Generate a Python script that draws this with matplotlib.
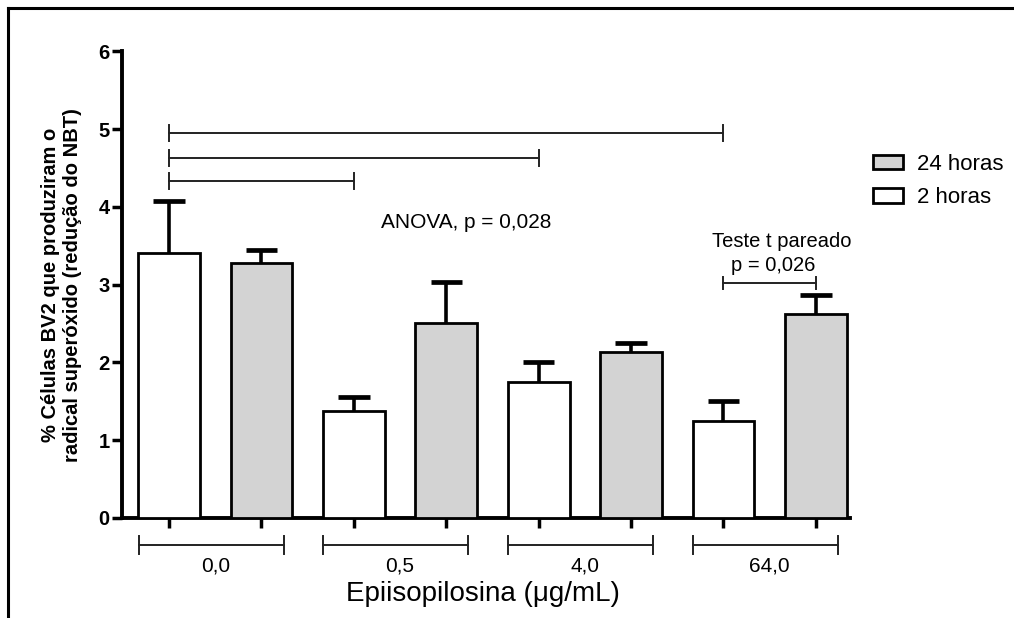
import matplotlib
matplotlib.use("Agg")
import matplotlib.pyplot as plt
from matplotlib.lines import Line2D
from matplotlib.patches import Patch
import numpy as np

plt.rcParams['font.family'] = ['Liberation Sans', 'DejaVu Sans']

# ---- data ----
doses = ["0,0", "0,5", "4,0", "64,0"]
series = ["2 horas", "24 horas"]
mean_2h = [3.40, 1.37, 1.75, 1.25]
err_2h = [0.67, 0.19, 0.25, 0.25]
mean_24h = [3.28, 2.50, 2.13, 2.62]
err_24h = [0.17, 0.53, 0.12, 0.25]
yticks = [0, 1, 2, 3, 4, 5, 6]

fig = plt.figure(figsize=(10.14, 6.18), dpi=100)
ax = fig.add_axes([0.1203, 0.162, 0.718, 0.755])

n = len(doses)
pos_2h = np.arange(n) * 2
pos_24h = np.arange(n) * 2 + 1
bw = 0.67

ax.bar(pos_2h, mean_2h, width=bw, color="white", edgecolor="black", linewidth=2.0, zorder=3)
ax.bar(pos_24h, mean_24h, width=bw, color="#d3d3d3", edgecolor="black", linewidth=2.0, zorder=3)

cap = 0.17
for p, m, e in list(zip(pos_2h, mean_2h, err_2h)) + list(zip(pos_24h, mean_24h, err_24h)):
    ax.vlines(p, m, m + e, color="black", linewidth=2.6, zorder=2)
    ax.hlines(m + e, p - cap, p + cap, color="black", linewidth=3.4, zorder=2)

ax.set_xlim(-0.51, 7.37)
ax.set_ylim(0, 6)
ax.set_yticks(yticks)
ax.set_yticklabels([str(t) for t in yticks], fontsize=14.5, fontweight="bold")
ax.set_xticks(np.arange(2 * n))
ax.set_xticklabels([])
ax.tick_params(axis="y", length=7, width=2.5, pad=2)
ax.tick_params(axis="x", length=7, width=2.5)
for s in ["top", "right"]:
    ax.spines[s].set_visible(False)
for s in ["left", "bottom"]:
    ax.spines[s].set_linewidth(2.8)

ax.set_ylabel("% Células BV2 que produziram o\nradical superóxido (redução do NBT)",
              fontsize=14.5, fontweight="bold", labelpad=12, linespacing=1.15)

# group brackets below axis
trans = ax.get_xaxis_transform()
yb = -0.058
for i, lab in enumerate(doses):
    x0 = pos_2h[i] - 0.33
    x1 = pos_24h[i] + 0.24
    ax.plot([x0, x1], [yb, yb], color="#222222", lw=1.4, transform=trans, clip_on=False)
    for xx in (x0, x1):
        ax.plot([xx, xx], [yb - 0.02, yb + 0.02], color="#222222", lw=1.4, transform=trans, clip_on=False)
    ax.text((pos_2h[i] + pos_24h[i]) / 2, yb - 0.025, lab, transform=trans,
            ha="center", va="top", fontsize=15)

ax.text(3.4, -0.136, "Epiisopilosina (\u03bcg/mL)", transform=trans, ha="center",
        va="top", fontsize=20)

# significance brackets
def bracket(x0, x1, y, h=0.1):
    ax.plot([x0, x1], [y, y], color="#222222", lw=1.4, clip_on=False, zorder=4)
    for xx in (x0, x1):
        ax.plot([xx, xx], [y - h, y + h], color="#222222", lw=1.4, clip_on=False, zorder=4)

bracket(pos_2h[0], pos_2h[3], 4.95)
bracket(pos_2h[0], pos_2h[2], 4.63)
bracket(pos_2h[0], pos_2h[1], 4.33)
bracket(pos_2h[3], pos_24h[3], 3.02, h=0.08)

ax.text(3.22, 3.80, "ANOVA, p = 0,028", ha="center", va="center", fontsize=15)
ax.text(6.63, 3.56, "Teste t pareado", ha="center", va="center", fontsize=14.5)
ax.text(6.54, 3.24, "p = 0,026", ha="center", va="center", fontsize=14.5)

# legend
handles = [Patch(facecolor="#d3d3d3", edgecolor="black", linewidth=2.0, label=series[1]),
           Patch(facecolor="white", edgecolor="black", linewidth=2.0, label=series[0])]
fig.legend(handles=handles, loc="upper left", bbox_to_anchor=(0.841, 0.783),
           frameon=False, fontsize=16, handlelength=1.35, handleheight=0.6,
           labelspacing=0.55, handletextpad=0.65)

# partial frame around figure
fig.add_artist(Line2D([8 / 1014, 1.0], [1 - 8 / 618, 1 - 8 / 618], color="black", lw=2.2,
                      transform=fig.transFigure))
fig.add_artist(Line2D([8 / 1014, 8 / 1014], [0, 1 - 8 / 618], color="black", lw=2.2,
                      transform=fig.transFigure))

fig.savefig("out.png", dpi=100)
